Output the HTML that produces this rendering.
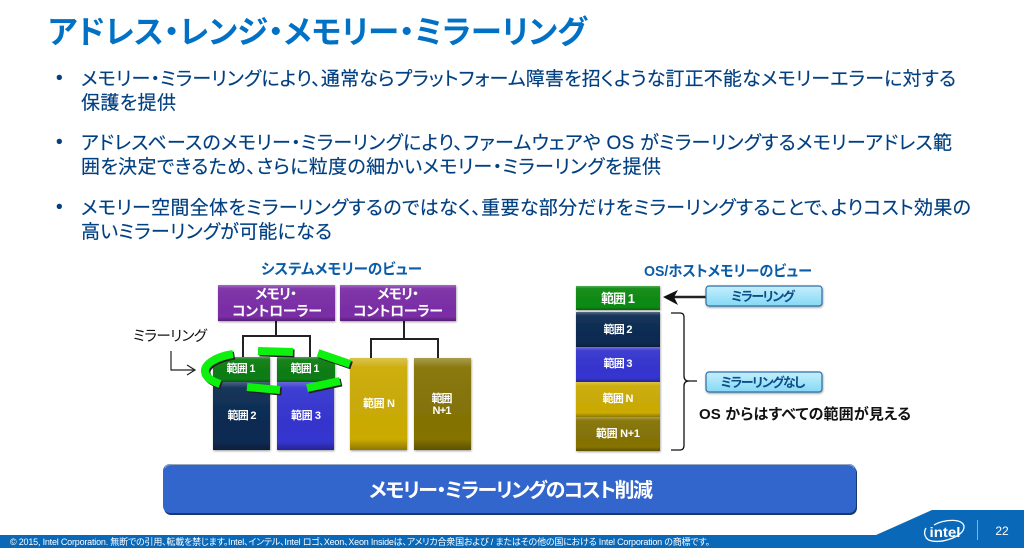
<!DOCTYPE html>
<html lang="ja">
<head>
<meta charset="utf-8">
<title>アドレス・レンジ・メモリー・ミラーリング</title>
<style>
html,body{margin:0;padding:0;background:#fff;width:1024px;height:548px;overflow:hidden}
svg{display:block}
text{font-family:"Liberation Sans","Noto Sans CJK JP",sans-serif;font-feature-settings:"palt" 1}
.b{font-size:19px;fill:#003f80;stroke:#003f80;stroke-width:.15}
.w{fill:#fff;font-weight:700;text-anchor:middle;font-size:11px}
.h{fill:#0a5ca8;font-weight:700;font-size:15px}
</style>
</head>
<body>
<svg width="1024" height="548" viewBox="0 0 1024 548" xmlns="http://www.w3.org/2000/svg">
<defs>
<linearGradient id="bev" x1="0" y1="0" x2="0" y2="1">
<stop offset="0" stop-color="#fff" stop-opacity=".3"/>
<stop offset=".1" stop-color="#fff" stop-opacity=".05"/>
<stop offset=".88" stop-color="#000" stop-opacity="0"/>
<stop offset="1" stop-color="#000" stop-opacity=".3"/>
</linearGradient>
<linearGradient id="cy" x1="0" y1="0" x2="0" y2="1">
<stop offset="0" stop-color="#c4effc"/>
<stop offset="1" stop-color="#86d8f5"/>
</linearGradient>
<filter id="sh" x="-10%" y="-10%" width="120%" height="125%">
<feDropShadow dx="0.5" dy="1" stdDeviation="1" flood-color="#000" flood-opacity=".4"/>
</filter>
</defs>

<text x="48" y="43" font-size="32" font-weight="700" fill="#0071c5" textLength="539" lengthAdjust="spacingAndGlyphs">アドレス・レンジ・メモリー・ミラーリング</text>

<text x="56" y="84" class="b">•</text>
<text x="81" y="85" class="b" textLength="875">メモリー・ミラーリングにより、通常ならプラットフォーム障害を招くような訂正不能なメモリーエラーに対する</text>
<text x="81" y="109" class="b" textLength="95">保護を提供</text>
<text x="56" y="148" class="b">•</text>
<text x="81" y="149" class="b" textLength="871">アドレスベースのメモリー・ミラーリングにより、ファームウェアや OS がミラーリングするメモリーアドレス範</text>
<text x="81" y="173" class="b" textLength="580">囲を決定できるため、さらに粒度の細かいメモリー・ミラーリングを提供</text>
<text x="56" y="213" class="b">•</text>
<text x="81" y="214" class="b" textLength="890">メモリー空間全体をミラーリングするのではなく、重要な部分だけをミラーリングすることで、よりコスト効果の</text>
<text x="81" y="238" class="b" textLength="251">高いミラーリングが可能になる</text>

<text x="261" y="274" class="h" textLength="161" lengthAdjust="spacingAndGlyphs">システムメモリーのビュー</text>
<text x="644" y="276" class="h" textLength="168" lengthAdjust="spacingAndGlyphs">OS/ホストメモリーのビュー</text>

<!-- connectors -->
<g fill="none" stroke="#222" stroke-width="2">
<path d="M276 321V336M243 358V336H310V358"/>
<path d="M404 321V339M371 358V339H438V358"/>
</g>

<!-- controllers -->
<g filter="url(#sh)">
<rect x="218" y="285" width="117" height="36" fill="#7b2ea6"/>
<rect x="218" y="285" width="117" height="36" fill="url(#bev)"/>
<rect x="340" y="285" width="116" height="36" fill="#7b2ea6"/>
<rect x="340" y="285" width="116" height="36" fill="url(#bev)"/>
</g>
<text x="276" y="299" class="w" style="font-size:14px" textLength="42">メモリ・</text>
<text x="277" y="316" class="w" style="font-size:14px" textLength="90">コントローラー</text>
<text x="398" y="299" class="w" style="font-size:14px" textLength="42">メモリ・</text>
<text x="398" y="316" class="w" style="font-size:14px" textLength="90">コントローラー</text>

<!-- left label -->
<text x="133" y="341" font-size="14.500" fill="#111" textLength="74">ミラーリング</text>
<path d="M171 351V370H194M187 365L195 370L187 375" fill="none" stroke="#222" stroke-width="1.2"/>

<!-- system memory blocks -->
<g filter="url(#sh)">
<rect x="213" y="381" width="57" height="69" fill="#0b2b52"/><rect x="213" y="381" width="57" height="69" fill="url(#bev)"/>
<rect x="277" y="381" width="57" height="69" fill="#3535d0"/><rect x="277" y="381" width="57" height="69" fill="url(#bev)"/>
<rect x="213" y="357" width="57" height="25" fill="#0e7d12"/><rect x="213" y="357" width="57" height="25" fill="url(#bev)"/>
<rect x="277" y="357" width="58" height="25" fill="#0e7d12"/><rect x="277" y="357" width="58" height="25" fill="url(#bev)"/>
<rect x="350" y="358" width="57" height="92" fill="#cbab05"/><rect x="350" y="358" width="57" height="92" fill="url(#bev)"/>
<rect x="414" y="358" width="57" height="92" fill="#857305"/><rect x="414" y="358" width="57" height="92" fill="url(#bev)"/>
</g>
<text x="241" y="372" class="w" textLength="29">範囲 1</text>
<text x="305" y="372" class="w" textLength="29">範囲 1</text>
<text x="242" y="419" class="w" textLength="29">範囲 2</text>
<text x="306" y="419" class="w" textLength="30">範囲 3</text>
<text x="379" y="407" class="w" textLength="32">範囲 N</text>
<text x="442" y="402" class="w" textLength="21">範囲</text>
<text x="442" y="414" class="w" textLength="19">N+1</text>

<!-- mirroring ring -->
<g fill="none" stroke-linecap="butt">
<g stroke="#222" stroke-width="8" transform="translate(1.500,1.500)">
<path d="M233 354C214 357 204 365 205 372C206 378 212 381 220 384"/>
<path d="M258 351L293 352"/>
<path d="M318 353L350 364"/>
<path d="M307 388L340 381"/>
<path d="M247 387L280 390"/>
</g>
<g stroke="#0ef00e" stroke-width="8">
<path d="M233 354C214 357 204 365 205 372C206 378 212 381 220 384"/>
<path d="M258 351L293 352"/>
<path d="M318 353L350 364"/>
<path d="M307 388L340 381"/>
<path d="M247 387L280 390"/>
</g>
</g>

<!-- OS view stack -->
<g filter="url(#sh)">
<rect x="576" y="286" width="84" height="24" fill="#0e8a12"/><rect x="576" y="286" width="84" height="24" fill="url(#bev)"/>
<rect x="576" y="312" width="84" height="35" fill="#0b2b52"/><rect x="576" y="312" width="84" height="35" fill="url(#bev)"/>
<rect x="576" y="347" width="84" height="35" fill="#3535d0"/><rect x="576" y="347" width="84" height="35" fill="url(#bev)"/>
<rect x="576" y="382" width="84" height="35" fill="#cbab05"/><rect x="576" y="382" width="84" height="35" fill="url(#bev)"/>
<rect x="576" y="417" width="84" height="34" fill="#857305"/><rect x="576" y="417" width="84" height="34" fill="url(#bev)"/>
</g>
<text x="618" y="303" class="w" style="font-size:13px" textLength="34">範囲 1</text>
<text x="618" y="333" class="w" textLength="29">範囲 2</text>
<text x="618" y="367" class="w" textLength="29">範囲 3</text>
<text x="618" y="402" class="w" textLength="31">範囲 N</text>
<text x="618" y="437" class="w" textLength="44">範囲 N+1</text>

<!-- arrow -->
<path d="M706 297H672" stroke="#222" stroke-width="2.500"/>
<path d="M663 297L678 290L674 297L678 305Z" fill="#111"/>

<!-- cyan labels -->
<g filter="url(#sh)">
<rect x="706" y="286" width="116" height="20" rx="3" fill="url(#cy)" stroke="#2f6ea6" stroke-width="1.200"/>
<rect x="706" y="372" width="116" height="20" rx="3" fill="url(#cy)" stroke="#2f6ea6" stroke-width="1.200"/>
</g>
<text x="763" y="301" font-size="13" font-weight="700" fill="#0b4f8a" text-anchor="middle" textLength="64">ミラーリング</text>
<text x="763" y="387" font-size="13" font-weight="700" fill="#0b4f8a" text-anchor="middle" textLength="85">ミラーリングなし</text>

<!-- bracket -->
<path d="M671 313H680Q684 313 684 317V376Q684 381 689 381H697M689 381Q684 381 684 386V445Q684 450 680 450H671" fill="none" stroke="#111" stroke-width="1.300"/>

<text x="699" y="419" font-size="15" font-weight="700" fill="#111" textLength="212">OS からはすべての範囲が見える</text>

<!-- cost bar -->
<rect x="163" y="465" width="693" height="49" rx="7" fill="#16396e" transform="translate(1,1)"/>
<rect x="163" y="464" width="693" height="49" rx="7" fill="#3366cc"/>
<path d="M165 468Q166 464.500 172 464.500H847Q853 464.500 854 468" fill="none" stroke="#9ab" stroke-width="1"/>
<text x="511" y="497" font-size="20" font-weight="700" fill="#fff" text-anchor="middle" textLength="284">メモリー・ミラーリングのコスト削減</text>

<!-- footer -->
<path d="M0 535H876L932 510H1024V548H0Z" fill="#0a68b8"/>
<text x="10" y="545" font-size="9" fill="#fff" textLength="700">© 2015, Intel Corporation. 無断での引用、転載を禁じます。Intel、インテル、Intel ロゴ、Xeon、Xeon Insideは、アメリカ合衆国および / またはその他の国における Intel Corporation の商標です。</text>
<path d="M934 525C944 519 964 518 964 527C964 536 944 543 932 541C925 540 923 533 926 528" fill="none" stroke="#fff" stroke-width="1.300"/>
<text x="945" y="537" font-size="14" font-weight="700" fill="#fff" text-anchor="middle" textLength="31" lengthAdjust="spacingAndGlyphs">intel</text>
<rect x="977" y="520" width="1" height="20" fill="#7fb4e0"/>
<text x="1002" y="535" font-size="12" fill="#fff" text-anchor="middle">22</text>
</svg>
</body>
</html>
